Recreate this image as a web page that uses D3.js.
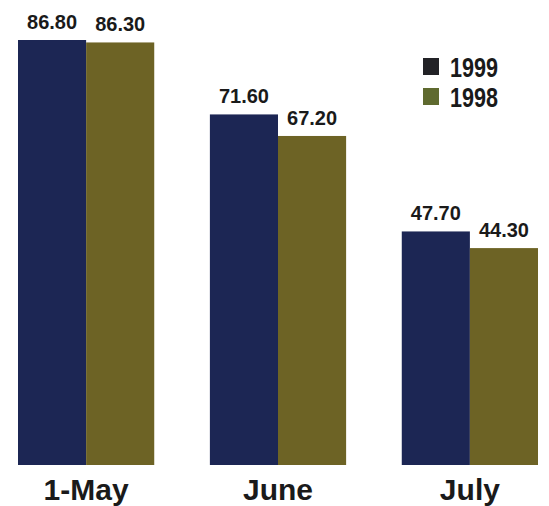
<!DOCTYPE html>
<html>
<head>
<meta charset="utf-8">
<script src="https://cdn.jsdelivr.net/npm/d3@7"></script>
<style>
  body { margin: 0; background: #fff; }
  svg { display: block; }
</style>
</head>
<body>
<div id="chart"></div>
<script>
// data
var months = ['1-May', 'June', 'July'];
var seriesNames = ['1999', '1998'];
var values1999 = [86.80, 71.60, 47.70];
var values1998 = [86.30, 67.20, 44.30];

var width = 549, height = 506;
var baseY = 465, topY = 40;
var barColors = { '1999': '#1c2654', '1998': '#6d6325' };
var legendColors = { '1999': '#222226', '1998': '#5f6a2f' };

var rows = months.map(function(m, i) {
  return { month: m, '1999': values1999[i], '1998': values1998[i] };
});

var svg = d3.select('#chart').append('svg')
  .attr('width', width)
  .attr('height', height);

var x0 = d3.scaleBand()
  .domain(months)
  .range([18, 538])
  .paddingInner(0.29)
  .paddingOuter(0);

var x1 = d3.scaleBand()
  .domain(seriesNames)
  .range([0, x0.bandwidth()])
  .padding(0);

var maxV = d3.max(values1999.concat(values1998));
var y = d3.scaleLinear()
  .domain([0, maxV])
  .range([baseY, topY]);

var groups = svg.selectAll('g.group')
  .data(rows)
  .enter().append('g')
  .attr('class', 'group')
  .attr('transform', function(d) { return 'translate(' + x0(d.month) + ',0)'; });

var cells = groups.selectAll('g.cell')
  .data(function(d) {
    return seriesNames.map(function(s) { return { key: s, value: d[s] }; });
  })
  .enter().append('g')
  .attr('class', 'cell');

cells.append('rect')
  .attr('x', function(d) { return x1(d.key); })
  .attr('y', function(d) { return y(d.value); })
  .attr('width', x1.bandwidth())
  .attr('height', function(d) { return baseY - y(d.value); })
  .attr('fill', function(d) { return barColors[d.key]; });

cells.append('text')
  .attr('x', function(d) { return x1(d.key) + x1.bandwidth() / 2; })
  .attr('y', function(d) { return y(d.value) - 11; })
  .attr('text-anchor', 'middle')
  .style('font-family', 'Liberation Sans, Arial, sans-serif')
  .style('font-weight', 'bold')
  .style('font-size', '20px')
  .attr('fill', '#1a1a1a')
  .text(function(d) { return d.value.toFixed(2); });

// category labels under the bars
var xAxis = d3.axisBottom(x0).tickSize(0).tickPadding(0);
var axisG = svg.append('g')
  .attr('transform', 'translate(0,' + (baseY + 12) + ')')
  .call(xAxis);
axisG.select('.domain').remove();
axisG.selectAll('text')
  .attr('dy', '0.76em')
  .style('font-family', 'Liberation Sans, Arial, sans-serif')
  .style('font-weight', 'bold')
  .style('font-size', '30px')
  .attr('fill', '#1a1a1a');

// legend (text is narrow in the original, so squeeze it)
var legend = svg.append('g').attr('transform', 'translate(423,58)');
var items = legend.selectAll('g')
  .data(seriesNames)
  .enter().append('g')
  .attr('transform', function(d, i) { return 'translate(0,' + (i * 30) + ')'; });

items.append('rect')
  .attr('width', 16)
  .attr('height', 17)
  .attr('fill', function(d) { return legendColors[d]; });

items.append('text')
  .attr('transform', 'translate(27,19) scale(0.8,1)')
  .style('font-family', '"Liberation Sans", Arial, sans-serif')
  .style('font-weight', 'bold')
  .style('font-size', '27px')
  .attr('fill', '#1a1a1a')
  .text(function(d) { return d; });
</script>
</body>
</html>
